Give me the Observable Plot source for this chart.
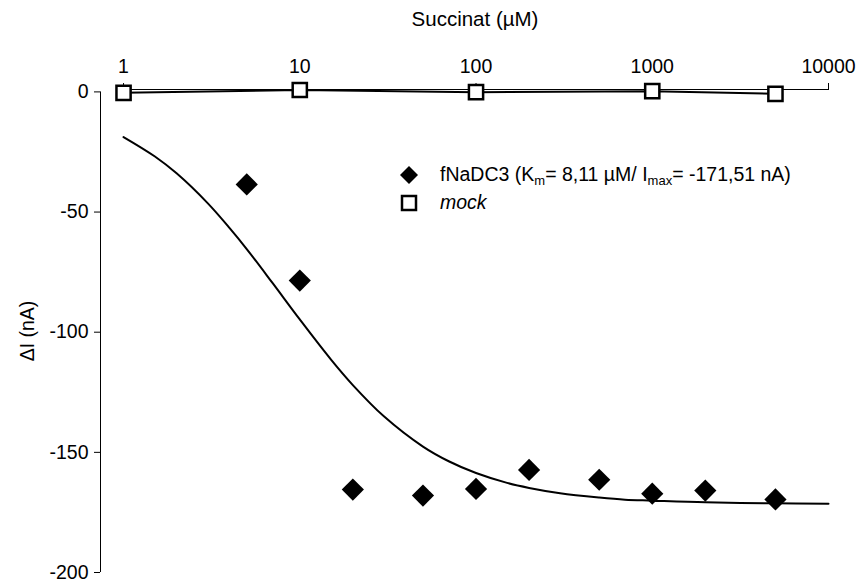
<!DOCTYPE html>
<html><head><meta charset="utf-8">
<script src="https://cdn.jsdelivr.net/npm/d3@7"></script>
<script src="https://cdn.jsdelivr.net/npm/@observablehq/plot@0.6"></script>
<style>
body{margin:0;background:#fff;font-family:"Liberation Sans",Arial,sans-serif;}
#wrap{position:relative;width:856px;height:588px;}
#title{position:absolute;left:375px;width:200px;top:7px;text-align:center;font-size:20.5px;color:#000;}
#legend{position:absolute;left:395px;top:161px;font-size:19.5px;color:#000;line-height:1;}
.row{display:flex;align-items:center;height:28px;}
.sym{width:45px;display:flex;align-items:center;justify-content:flex-start;padding-left:3px;box-sizing:border-box;}
sub{font-size:13px;vertical-align:-4px;line-height:0;color:#000;}
</style></head>
<body><div id="wrap"><div id="chart"></div>
<div id="title">Succinat (µM)</div>
<div id="legend">
<div class="row"><div class="sym"><svg width="22" height="22"><polygon points="11,2 20,11 11,20 2,11" fill="#000"/></svg></div><span>fNaDC3 (K<sub>m</sub>= 8,11 µM/ I<sub>max</sub>= -171,51 nA)</span></div>
<div class="row"><div class="sym"><svg width="22" height="22"><rect x="4" y="4" width="14" height="14" fill="#fff" stroke="#000" stroke-width="2.5"/></svg></div><span style="font-style:italic">mock</span></div>
</div>
</div>
<script>
const concentrations = [5, 10, 20, 50, 100, 200, 500, 1000, 2000, 5000];
const fNaDC3Current = [-38.5, -78.5, -165.5, -168.0, -165.2, -157.3, -161.4, -167.2, -165.9, -169.6];
const mockConcentrations = [1, 10, 100, 1000, 5000];
const mockCurrent = [-0.4, 0.8, -0.1, 0.3, -0.8];
const fitConcentrations = [1, 1.5, 2, 3, 4, 5, 7, 10, 15, 20, 30, 50, 70, 100, 150, 200, 300, 500, 700, 1000, 2000, 5000, 10000];
const fitCurrent = [-18.8, -26.8, -33.9, -46.3, -56.7, -65.4, -79.5, -94.7, -111.3, -122.0, -135.0, -147.6, -153.7, -158.6, -162.7, -164.8, -167.0, -168.8, -169.7, -170.1, -170.8, -171.2, -171.4];
const xTicks = [1, 10, 100, 1000, 10000];
const yTicks = [-200, -150, -100, -50, 0];

const points = concentrations.map((c, i) => ({c, v: fNaDC3Current[i]}));
const mock = mockConcentrations.map((c, i) => ({c, v: mockCurrent[i]}));
const fit = fitConcentrations.map((c, i) => ({c, v: fitCurrent[i]}));

const xDomain = [0.74, 10000];
const yDomain = [-200, 1];

const chart = Plot.plot({
  width: 856, height: 588,
  marginTop: 89, marginBottom: 16, marginLeft: 100, marginRight: 28,
  style: {fontFamily: "'Liberation Sans', Arial, sans-serif", fontSize: "19px", color: "#000", background: "#fff", overflow: "visible"},
  x: {type: "log", domain: xDomain},
  y: {domain: yDomain},
  marks: [
    Plot.ruleX([xDomain[0]], {y1: yTicks[yTicks.length - 1], y2: yTicks[0], stroke: "#000", strokeWidth: 1}),
    Plot.ruleY([yDomain[1]], {x1: xTicks[0], x2: xTicks[xTicks.length - 1], stroke: "#000", strokeWidth: 1}),
    Plot.axisY({ticks: yTicks, tickFormat: d => String(d), tickSize: 6, tickPadding: 6, label: "ΔI (nA)", labelAnchor: "center", labelArrow: "none", labelOffset: 80, fontSize: 19.5}),
    Plot.axisX({anchor: "top", ticks: xTicks, tickFormat: d => String(d), tickSize: 7, tickPadding: 10, label: null, fontSize: 19.5}),
    Plot.line(fit, {x: "c", y: "v", stroke: "#000", strokeWidth: 2, curve: "catmull-rom"}),
    Plot.line(mock, {x: "c", y: "v", stroke: "#000", strokeWidth: 2}),
    Plot.dot(mock, {x: "c", y: "v", symbol: "square", r: 8, fill: "#fff", stroke: "#000", strokeWidth: 2.5}),
    Plot.dot(points, {x: "c", y: "v", symbol: "diamond2", r: 10, fill: "#000", stroke: "none"})
  ]
});
document.getElementById("chart").appendChild(chart);
</script>
</body></html>
